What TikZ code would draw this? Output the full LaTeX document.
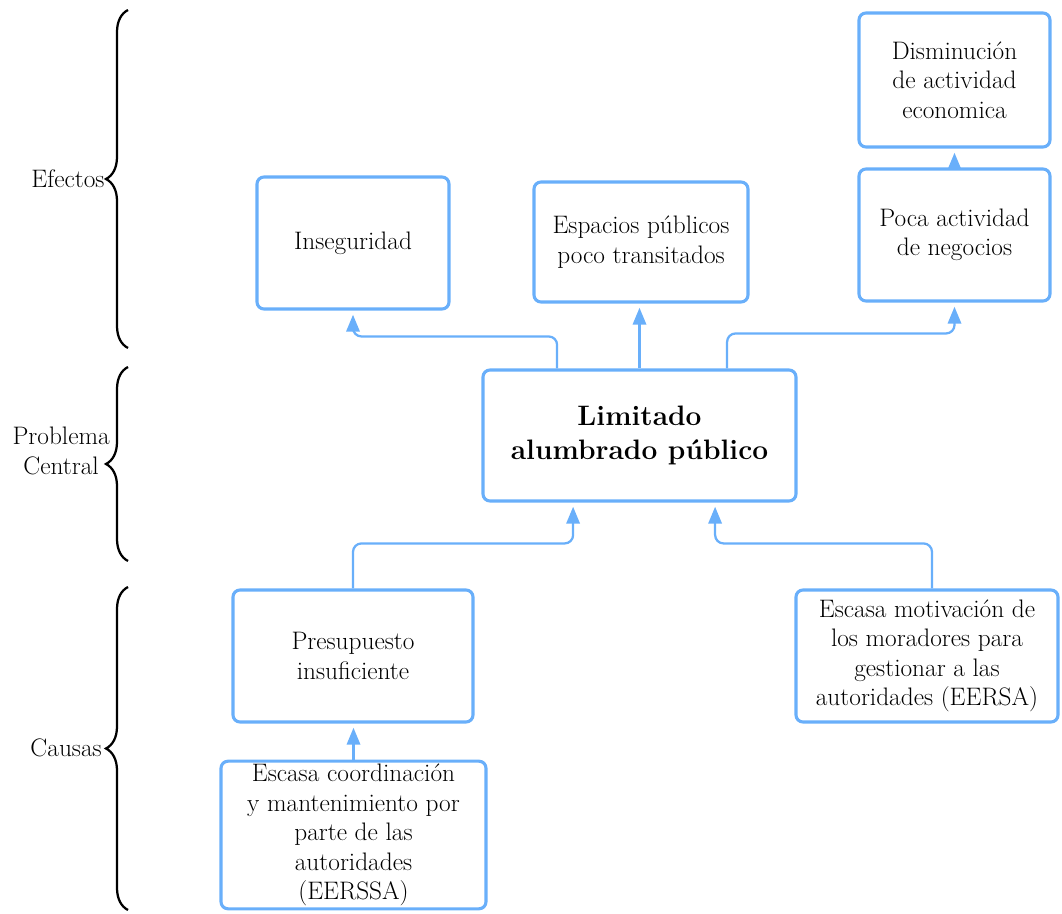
\documentclass[tikz,border=0pt]{standalone}
\usetikzlibrary{arrows.meta,decorations.pathreplacing}
\definecolor{boxblue}{RGB}{105,175,250}
\tikzset{
  box/.style={draw=boxblue, line width=2.2pt, rounded corners=5pt, align=center, inner sep=2pt},
  link/.style={draw=boxblue, line width=1.6pt, rounded corners=6pt, -{Triangle[width=9.5pt,length=12pt]}, shorten >=3pt},
  bracket/.style={decorate, decoration={brace, amplitude=0.55cm}, line width=1.6pt},
}
\begin{document}
\begin{tikzpicture}[font=\fontsize{18}{21}\selectfont]
  \useasboundingbox (0,0) rectangle (26.55,22.825);
  \node[box, minimum width=4.8cm, minimum height=3.3cm] (inseg) at (8.825,16.75) {Inseguridad};
  \node[box, minimum width=5.35cm, minimum height=3cm] (espac) at (16.025,16.775) {Espacios públicos\\poco transitados};
  \node[box, minimum width=4.775cm, minimum height=3.3cm] (poca) at (23.8625,16.95) {Poca actividad\\de negocios};
  \node[box, minimum width=4.775cm, minimum height=3.35cm] (dismi) at (23.8625,20.825) {Disminución\\de actividad\\economica};
  \node[box, minimum width=7.825cm, minimum height=3.275cm, font=\fontsize{20}{24}\selectfont\bfseries] (limit) at (15.9875,11.9375) {Limitado\\alumbrado público};
  \node[box, minimum width=6cm, minimum height=3.3cm] (presu) at (8.825,6.425) {Presupuesto\\insuficiente};
  \node[box, minimum width=6.55cm, minimum height=3.3cm] (motiv) at (23.175,6.425) {Escasa motivación de\\los moradores para\\gestionar a las\\autoridades (EERSA)};
  \node[box, minimum width=6.625cm, minimum height=3.65cm] (coord) at (8.8375,1.95) {Escasa coordinación\\y mantenimiento por\\parte de las\\autoridades\\(EERSSA)};
  \draw[link] ([xshift=-2.06cm]limit.north) -- ++(0,0.8) -| (inseg.south);
  \draw[link] (limit.north) -- (limit.north |- espac.south);
  \draw[link] ([xshift=2.19cm]limit.north) -- ++(0,0.875) -| (poca.south);
  \draw[link] (poca.north) -- (dismi.south);
  \draw[link] (presu.north) -- ++(0,1.125) -| ([xshift=-1.66cm]limit.south);
  \draw[link] ([xshift=0.125cm]motiv.north) -- ++(0,1.125) -| ([xshift=1.89cm]limit.south);
  \draw[link] (coord.north) -- (coord.north |- presu.south);
  \draw[bracket] (3.2,14.125) -- (3.2,22.575);
  \draw[bracket] (3.2,8.8) -- (3.2,13.65);
  \draw[bracket] (3.2,0.075) -- (3.2,8.15);
  \node[anchor=east, inner sep=0pt] (efect) at (2.62,18.35) {Efectos};
  \node[anchor=east, inner sep=0pt, align=center] (probl) at (2.75,11.55) {Problema\\Central};
  \node[anchor=east, inner sep=0pt] (causa) at (2.55,4.12) {Causas};
\end{tikzpicture}
\end{document}
